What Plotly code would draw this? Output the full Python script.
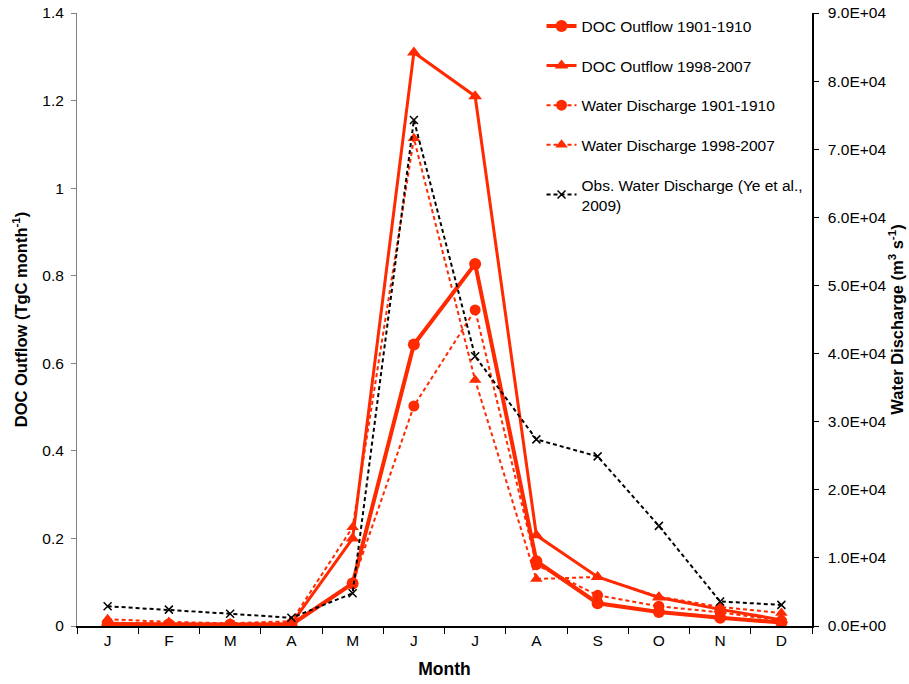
import plotly.graph_objects as go

months = ["J", "F", "M", "A", "M", "J", "J", "A", "S", "O", "N", "D"]
doc_1901 = [0.004, 0.003, 0.003, 0.003, 0.097, 0.643, 0.827, 0.148, 0.052, 0.032, 0.019, 0.008]
doc_1998 = [0.005, 0.004, 0.003, 0.005, 0.200, 1.310, 1.210, 0.207, 0.112, 0.065, 0.038, 0.014]
wd_1901 = [500, 300, 200, 400, 6300, 32300, 46400, 9000, 4500, 2900, 2000, 800]
wd_1998 = [1000, 600, 400, 700, 14500, 71600, 36100, 6900, 7200, 4300, 2800, 1900]
obs_wd = [2900, 2400, 1800, 1200, 4800, 74300, 39600, 27400, 24900, 14700, 3600, 3100]
y2_ticks = [0, 10000, 20000, 30000, 40000, 50000, 60000, 70000, 80000, 90000]

RED = "#FF2A00"
FONT = "Liberation Sans, Arial, sans-serif"
x = list(range(len(months)))

fig = go.Figure()
fig.add_trace(go.Scatter(x=x, y=doc_1901, name="DOC Outflow 1901-1910", legendgroup="a",
                         mode="lines+markers", line=dict(color=RED, width=4),
                         marker=dict(symbol="circle", size=12, color=RED)))
fig.add_trace(go.Scatter(x=x, y=doc_1998, name="DOC Outflow 1998-2007", legendgroup="b",
                         mode="lines+markers", line=dict(color=RED, width=3),
                         marker=dict(symbol="triangle-up", size=12, color=RED)))
fig.add_trace(go.Scatter(x=x, y=wd_1901, name="Water Discharge 1901-1910", legendgroup="c",
                         yaxis="y2", mode="lines+markers",
                         line=dict(color=RED, width=2, dash="4px,3px"),
                         marker=dict(symbol="circle", size=11, color=RED)))
fig.add_trace(go.Scatter(x=x, y=wd_1998, name="Water Discharge 1998-2007", legendgroup="d",
                         yaxis="y2", mode="lines+markers",
                         line=dict(color=RED, width=2, dash="4px,3px"),
                         marker=dict(symbol="triangle-up", size=11, color=RED)))
fig.add_trace(go.Scatter(x=x, y=obs_wd, name="Obs. Water Discharge (Ye et al.,<br>2009)", legendgroup="e",
                         yaxis="y2", mode="lines+markers",
                         line=dict(color="black", width=2, dash="4px,3px"),
                         marker=dict(symbol="x-thin", size=8, color="black",
                                     line=dict(color="black", width=1.5))))

fig.update_layout(
    width=909, height=684,
    margin=dict(l=77, r=97, t=13, b=58, autoexpand=False),
    plot_bgcolor="white", paper_bgcolor="white",
    font=dict(family=FONT, size=15.5, color="black"),
    showlegend=True,
    legend=dict(x=0.632, y=1.006, xanchor="left", yanchor="top", bgcolor="rgba(0,0,0,0)",
                font=dict(family=FONT, size=15.5), tracegroupgap=16.5, itemwidth=30),
    xaxis=dict(range=[-0.5, 11.5], tickmode="array", tickvals=x, ticktext=months,
               ticks="", showline=True, linecolor="black", linewidth=1.5,
               showgrid=False, zeroline=False, automargin=False,
               minor=dict(tick0=-0.5, dtick=1, ticks="outside", ticklen=6, tickcolor="black", showgrid=False),
               title=dict(text="<b>Month</b>", font=dict(size=17.5), standoff=14),
               tickfont=dict(size=15.5)),
    yaxis=dict(range=[0, 1.4], dtick=0.2, ticks="outside", ticklen=5, tickcolor="#808080",
               ticklabelstandoff=4,
               showline=True, linecolor="#808080", linewidth=1, showgrid=False, zeroline=False,
               automargin=False,
               title=dict(text="<b>DOC Outflow (TgC month<sup>-1</sup>)</b>", font=dict(size=16.5), standoff=10)),
    yaxis2=dict(range=[0, 90000], overlaying="y", side="right", tickmode="array",
                tickvals=y2_ticks, ticktext=[f"{v:.1E}" for v in y2_ticks],
                ticks="outside", ticklen=5, tickcolor="black", ticklabelstandoff=6,
                showline=True, linecolor="black", linewidth=1.5, showgrid=False, zeroline=False,
                automargin=False,
                title=dict(text="<b>Water Discharge (m<sup>3</sup> s<sup>-1</sup>)</b>", font=dict(size=16.5), standoff=6)),
)

fig.write_html("out.html")
